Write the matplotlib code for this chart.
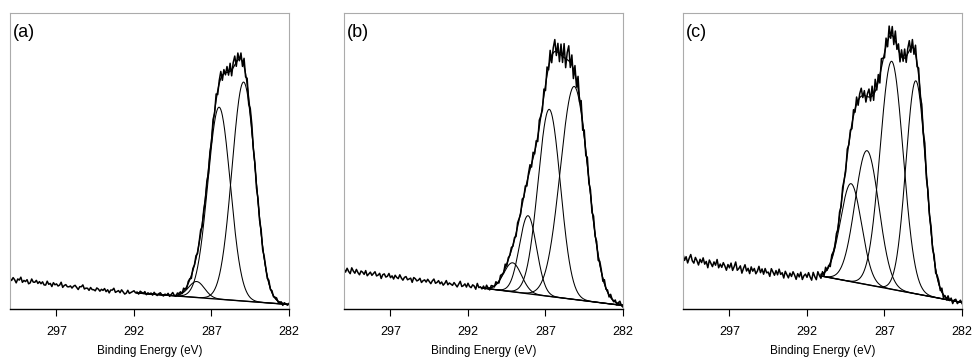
import numpy as np
import matplotlib.pyplot as plt

plt.rcParams['font.family'] = ['Liberation Sans', 'DejaVu Sans']

# binding energy of the measured points (eV): 300.0 -> 282.0, 181 points
energy = np.round(300 - 0.1 * np.arange(181), 1)
ticks = [297, 292, 287, 282]
labels = ['(a)', '(b)', '(c)']

# fitted components: centre (eV), height above background, FWHM (eV)
centres_a = [284.93, 286.51, 287.96]
heights_a = [219, 192, 16]
fwhm_a = [1.75, 1.70, 1.20]

centres_b = [285.15, 286.76, 288.13, 289.12]
heights_b = [213, 187, 78, 29]
fwhm_b = [2.10, 1.70, 1.30, 1.35]

centres_c = [284.98, 286.54, 288.13, 289.16]
heights_c = [213, 228, 134, 98]
fwhm_c = [1.50, 1.75, 1.80, 1.60]

# linear background: start energy, height at start, height at 282 eV
bg_a = [291.8, 16.0, 4.5]
bg_b = [291.1, 21.0, 3.5]
bg_c = [291.1, 33.0, 6.5]

# measured minus fit, one value per energy point
resid_a = [
    5, 3, 6, 4, 1, 5, 4, 7, 2, 4,
    3, 5, 1, 2, 6, 3, 3, 5, 2, 4,
    2, 4, 1, 1, 5, 2, 3, 0, 4, 2,
    3, 1, 2, 5, 0, 2, 3, 1, 1, 2,
    0, 2, 3, 1, -1, 2, 2, 4, 0, 1,
    1, -1, 2, 0, 0, -1, 2, 1, -1, 1,
    0, 2, -1, 1, -2, 1, 1, 3, -1, 0,
    1, -1, 2, 0, -2, -1, 2, -1, 0, 1,
    2, 0, 1, -1, 2, 1, 0, 2, -1, 1,
    0, 1, -1, 2, 0, -1, 1, 2, 0, -1,
    1, 0, 2, -1, 1, 3, 0, -1, 2, 1,
    2, -1, 3, 0, -2, 2, 1, -3, 2, 0,
    3, -2, 1, 4, -3, 2, -1, 3, -4, 2,
    -3, 5, -2, 6, -4, 3, 7, -5, 4, -2,
    6, -3, 8, -6, 5, 9, -4, 7, -2, 6,
    -5, 8, -3, 6, -7, 4, 5, -2, 3, -4,
    3, -2, 4, -3, 2, 1, -2, 3, -1, 2,
    -1, 1, 2, -1, 0, 1, -2, 1, 0, -1,
    1,
]
resid_b = [
    2, -1, 3, 0, -2, 4, 1, -1, 3, 0,
    -2, 2, 1, -1, 3, -2, 0, 2, -1, 1,
    3, -1, 0, 2, -3, 1, 2, -1, 0, 3,
    -1, 1, -2, 2, 0, -1, 3, 0, -2, 1,
    2, -1, 0, 1, -3, 2, 1, -1, 0, 2,
    -2, 0, 1, -1, 2, 0, -2, 1, 3, -1,
    0, 2, -1, 1, -2, 0, 3, -1, 1, 0,
    -1, 2, 0, -2, 1, 4, -1, 0, 2, -1,
    3, 0, -1, 2, 1, -2, 4, 0, 1, -1,
    2, -1, 3, 0, -2, 2, 1, -1, 3, 0,
    -2, 3, 1, -1, 4, -2, 2, 0, 3, -1,
    2, -3, 4, 1, -2, 5, -1, 3, -4, 2,
    5, -3, 6, -2, 4, -5, 7, 1, -4, 6,
    -6, 8, -3, 10, -7, 5, 12, -4, 9, -8,
    11, -6, 14, -9, 7, 15, -5, 10, -10, 8,
    -7, 12, -4, 9, -8, 6, -5, 8, -3, 5,
    -4, 6, -2, 4, -5, 3, 2, -3, 4, -1,
    2, -2, 3, 0, -1, 2, -2, 1, 3, -1,
    -2,
]
resid_c = [
    -4, -10, -6, -12, -7, -3, -9, -11, -5, -8,
    -12, -6, -9, -4, -10, -7, -13, -5, -8, -11,
    -6, -9, -3, -11, -7, -10, -5, -8, -12, -6,
    -9, -4, -11, -7, -2, -10, -8, -5, -12, -7,
    -3, -9, -6, -11, -4, -8, -5, -10, -7, -2,
    -8, -4, -9, -3, -7, -6, -10, -2, -5, -8,
    -3, -7, -1, -6, -4, -9, -2, -5, -8, -3,
    -6, -1, -4, -8, -2, -5, 0, -7, -3, -1,
    -4, 1, -3, -6, 2, -2, -5, 3, -1, -4,
    2, -3, 4, -1, 1, -4, 3, 0, -2, 3,
    -3, 4, -2, 5, 0, -4, 6, -1, 3, -5,
    6, -3, 7, -5, 4, 8, -2, 5, -6, 3,
    8, -4, 10, -6, 12, -3, 7, -8, 9, 2,
    -5, 8, -6, 11, -3, 9, -7, 10, -4, 6,
    -8, 7, -3, 9, -6, 5, 10, -4, 8, -5,
    9, -4, 7, -6, 5, -3, 8, -5, 4, -2,
    5, -3, 4, -4, 2, 3, -2, 4, -3, 1,
    -2, 3, -1, 2, -3, 1, 2, -2, 0, 2,
    -1,
]


def gauss(e, centre, height, fwhm):
    return height * np.exp(-4 * np.log(2) * (e - centre) ** 2 / fwhm ** 2)


def background(e, bg):
    start, h_start, h_end = bg
    return h_end + (h_start - h_end) * (e - 282) / (start - 282)


panels = [
    (centres_a, heights_a, fwhm_a, bg_a, resid_a),
    (centres_b, heights_b, fwhm_b, bg_b, resid_b),
    (centres_c, heights_c, fwhm_c, bg_c, resid_c),
]
lefts = [10, 344, 683]

fig = plt.figure(figsize=(9.73, 3.63), dpi=100)
for i, (centres, heights, widths, bg, resid) in enumerate(panels):
    ax = fig.add_axes([lefts[i] / 973, 54 / 363, 279 / 973, 296 / 363])

    fine = np.linspace(bg[0], 282, 400)
    base = background(fine, bg)
    comps = [gauss(fine, c, h, w) for c, h, w in zip(centres, heights, widths)]
    for comp in comps:
        ax.plot(fine, base + comp, color='black', lw=0.75)
    ax.plot(fine, base, color='black', lw=1.0)
    ax.plot(fine, base + np.sum(comps, axis=0), color='black', lw=0.9)

    fit = background(energy, bg)
    for c, h, w in zip(centres, heights, widths):
        fit = fit + gauss(energy, c, h, w)
    ax.plot(energy, fit + np.array(resid), color='black', lw=1.1)

    ax.set_xlim(300, 282)
    ax.set_ylim(0, 296)
    ax.set_xticks(ticks)
    ax.set_yticks([])
    ax.tick_params(axis='x', direction='out', length=5, width=0.8,
                   pad=7, labelsize=9)
    for side in ['left', 'top', 'right']:
        ax.spines[side].set_color('#ababab')
        ax.spines[side].set_linewidth(0.8)
    ax.spines['bottom'].set_linewidth(1.0)
    ax.set_xlabel('Binding Energy (eV)', fontsize=8.5, labelpad=5)
    ax.text(0.012, 0.935, labels[i], transform=ax.transAxes,
            fontsize=13, ha='left', va='center')

plt.savefig('out.png', dpi=100)
